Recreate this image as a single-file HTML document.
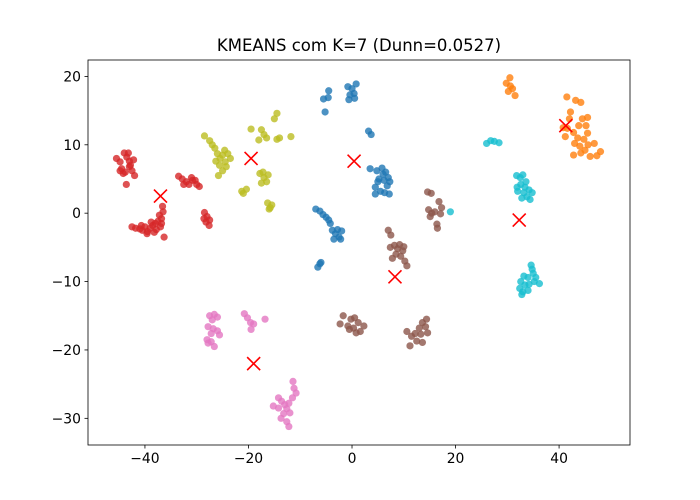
<!DOCTYPE html>
<html><head><meta charset="utf-8"><style>
body{margin:0;background:#fff;}
svg{display:block;font-family:"DejaVu Sans","Liberation Sans",sans-serif;}
</style></head><body>
<svg id="chart" width="700" height="500"></svg>
<script>
const xTicks=[-40,-20,0,20,40];
const yTicks=[-30,-20,-10,0,10,20];
const clusterColors=["#d62728","#bcbd22","#1f77b4","#ff7f0e","#17becf","#8c564b","#e377c2"];
const clusterNames=["red","olive","blue","orange","cyan","brown","pink"];
const redPts=[[-45.5,8],[-44.8,7.5],[-44,8.8],[-43.5,8.2],[-43,7.6],[-44.5,6.5],[-43.8,6],[-43,6.8],[-42.5,6.2],[-42,5.5],[-44.2,5.8],[-43.6,4.2],[-42.8,7],[-42.2,7.8],[-44.8,6.2],[-43.2,8.8],
[-42.5,-2],[-41.8,-2.2],[-41,-2.3],[-40.5,-2.5],[-40,-2],[-39.5,-2.7],[-39,-2.2],[-38.5,-1.8],[-38,-1.5],[-37.5,-1.2],[-37,-2],[-36.8,-0.8],[-36.5,0.2],[-36.6,1],[-36.8,-1.5],[-38.2,-2.8],[-39.6,-3],[-38.8,-1.3],[-37.8,-2.4],[-36.3,-3.5],[-37.2,-0.3],[-40.7,-1.8],
[-33.5,5.4],[-32.8,5],[-32,4.6],[-31.5,4.2],[-30.8,4.8],[-30,4.2],[-29.5,3.9],[-31,5.2],[-32.5,4.2],[-30.3,4.8],
[-28.5,0.1],[-28,-0.5],[-27.5,-1],[-28.2,-1.3],[-27.6,-1.8],[-28.6,-0.8]];
const olivePts=[[-28.5,11.3],[-27.5,10.6],[-27,10],[-26.5,9.5],[-26,8.7],[-25.5,8],[-25,8.5],[-24.5,7.5],[-24,8.7],[-25.6,7],[-25,6.2],[-24.3,6.8],[-26.3,7.6],[-25.8,5.5],[-24.6,9.2],[-23.5,8],
[-21,2.9],[-20.4,3.5],[-21.3,3.2],
[-19.5,12.3],[-17.5,12.2],[-17,11.5],[-18,10.7],[-14.5,14.6],[-15,13.8],[-14,11],[-14.5,10.8],[-11.8,11.2],[-16.5,11],
[-17.8,5.8],[-17,5.2],[-16.5,4.6],[-17.5,4.4],[-16.2,5.6],[-17.2,6],
[-16.3,1.5],[-15.8,0.8],[-15.5,1.2],[-16,0.6]];
const bluePts=[[-5.5,16.7],[-4.5,17.9],[-4.6,16.9],[-5.2,14.8],[-0.8,18.5],[0,18.2],[0.8,18.9],[-0.4,17.3],[0.4,17.5],[-0.6,16.6],[0.5,16.8],
[3.2,12],[3.7,11.5],
[3.5,6.5],[4.8,6.2],[5.8,6.6],[6.5,6],[5.2,5],[6.2,4.8],[7,5.2],[6.8,4],[5.5,3.2],[6.3,3],[7.2,2.8],[4.5,3.8],[5,4.6],[6,5.7],[7.3,4.6],[4.5,2.8],
[-7,0.6],[-6.2,0.3],[-5.6,-0.2],[-5,-0.6],[-4.5,-1],[-3.8,-2.5],[-3.2,-3],[-2.5,-3.5],[-3.5,-3.8],[-2,-2.6],[-2.8,-2.4],[-2.2,-3.8],[-4.2,-1.5],
[-6.6,-7.9],[-6.2,-7.4],[-6,-7.2]];
const orangePts=[[29.8,19],[30.5,19.8],[31,18.2],[30.2,17.8],[31.5,17.2],[30.6,18.6],
[41.5,17],[43.2,16.5],[44.2,16.2],[42.2,14.8],[44.5,13.8],[45.5,14],[45.2,12.8],[43.8,12.8],[41.6,12.4],[42.8,11.8],[41.2,11.2],[43.6,11],[44.8,10.8],[45.5,11.7],[43,10.2],[44,9.8],[45,9.2],[46.8,10.2],[47.3,8.4],[48,9],[46,8.3],[42.8,8.5],[44.2,8.8],[45.6,10],[40.8,12.5],[42,13.8]];
const cyanPts=[[26,10.2],[26.8,10.6],[27.5,10.5],[28.4,10.3],
[31.8,5.5],[32.5,5.2],[33,5.6],[32.6,4.2],[33.4,3.8],[32,3.2],[33.2,3],[34.2,3.4],[34.8,3],[33.8,2.4],[32.8,2.2],[34.4,2],[33.6,4.6],[31.9,3.8],
[34.6,-7.6],[34.8,-8.2],[35,-8.8],[33.2,-9.2],[34,-9.4],[32.6,-10],[33.4,-10.5],[34.2,-10.4],[35.2,-10],[36.2,-10.3],[32.4,-11],[33,-11.5],[34,-11.3],[32.8,-11.9],[35.5,-9.4],
[19,0.2]];
const brownPts=[[-2.3,-16.2],[-1.7,-15],[-0.8,-16.5],[-0.2,-15.5],[0.5,-15.3],[0.3,-16.8],[1.2,-16],[1.6,-17.3],[2.3,-16.5],[0.8,-17.5],[-0.5,-17],
[10.6,-17.3],[11.5,-18],[12.2,-17.6],[13,-16.8],[13.6,-16],[14.4,-15.5],[14.2,-16.6],[13.3,-17.7],[12.5,-18.7],[13.6,-18.9],[11.2,-19.4],[14.6,-17.5],
[7,-2.5],[7.5,-3.2],[8.2,-4.7],[7.4,-5],[8.8,-5.2],[9.2,-4.6],[9.8,-5.5],[10.2,-7],[10.6,-7.7],[9.4,-6.3],[8.5,-6],[7.8,-6.6],[10,-4.9],
[14.6,3.1],[15.3,2.9],[14.8,0.5],[15.4,0],[16,0.2],[15.1,-0.5],[16.4,-1.6],[16.5,-2.2],[16.8,1.7],[17.3,0.8],[17.1,-0.1]];
const pinkPts=[[-27.5,-15],[-26.6,-14.8],[-26,-15.2],[-27,-15.6],[-27.8,-16.6],[-26.8,-16.9],[-26,-17.2],[-27.2,-17.6],[-28,-18.5],[-27.2,-18.8],[-26.6,-19.5],[-25.6,-17.8],[-27.8,-19],
[-20.8,-14.7],[-20.2,-15.3],[-19.6,-16],[-19,-16.2],[-19.5,-17],[-16.8,-15.5],
[-15.2,-28.2],[-14.2,-27],[-13.6,-27.5],[-13,-28],[-12.6,-28.6],[-13.2,-29.3],[-12.6,-30.5],[-12.2,-31.2],[-13.7,-30],[-11.4,-24.6],[-11.2,-25.6],[-10.8,-26.3],[-11.5,-27],[-12.2,-27.8],[-14.2,-28.5],[-12,-29.2]];
const centroids=[[-37,2.5],[-19.5,8],[0.4,7.6],[41.3,12.8],[32.3,-1],[8.3,-9.3],[-19,-22]];

const L=88,R=630,T=60,B=445;
const xMin=-51,xMax=53.7,yMin=-33.9,yMax=22.4;
const sx=v=>L+(v-xMin)/(xMax-xMin)*(R-L);
const sy=v=>B-(v-yMin)/(yMax-yMin)*(B-T);
const NS="http://www.w3.org/2000/svg";
const svg=document.getElementById('chart');
function mk(tag,attrs,parent){const e=document.createElementNS(NS,tag);for(const k in attrs)e.setAttribute(k,attrs[k]);(parent||svg).appendChild(e);return e;}

const title=mk('text',{x:(L+R)/2,y:51,'text-anchor':'middle','font-size':'16.5'});
title.textContent='KMEANS com K=7 (Dunn=0.0527)';



const pts=mk('g',{});


[redPts,olivePts,bluePts,orangePts,cyanPts,brownPts,pinkPts].forEach((arr,ci)=>{
  const g=mk('g',{fill:clusterColors[ci],'fill-opacity':'0.8'},pts);
  
  
  arr.forEach(p=>{
    const c=mk('circle',{cx:sx(p[0]),cy:sy(p[1]),r:3.6},g);
    
    
  });
});
const cg=mk('g',{stroke:'#ff0000','stroke-width':'1.6'});


centroids.forEach(p=>{
  const x=sx(p[0]),y=sy(p[1]),d=6.5;
  const m=mk('path',{d:`M${x-d},${y-d}L${x+d},${y+d}M${x-d},${y+d}L${x+d},${y-d}`},cg);
  
  
});

const frame=mk('rect',{x:L,y:T,width:R-L,height:B-T,fill:'none',stroke:'#000','stroke-width':'0.8'});



const xa=mk('g',{});


xTicks.forEach(t=>{
  const x=sx(t);
  mk('line',{x1:x,x2:x,y1:B,y2:B+3.5,stroke:'#000','stroke-width':'0.8'},xa);
  const tx=mk('text',{x:x,y:B+18,'text-anchor':'middle','font-size':'13.9'},xa);
  tx.textContent=t<0?'\u2212'+(-t):String(t);
  
  
});
const ya=mk('g',{});


yTicks.forEach(t=>{
  const y=sy(t);
  mk('line',{x1:L-3.5,x2:L,y1:y,y2:y,stroke:'#000','stroke-width':'0.8'},ya);
  const tx=mk('text',{x:L-7,y:y+5,'text-anchor':'end','font-size':'13.9'},ya);
  tx.textContent=t<0?'\u2212'+(-t):String(t);
  
  
});
</script>
</body></html>
